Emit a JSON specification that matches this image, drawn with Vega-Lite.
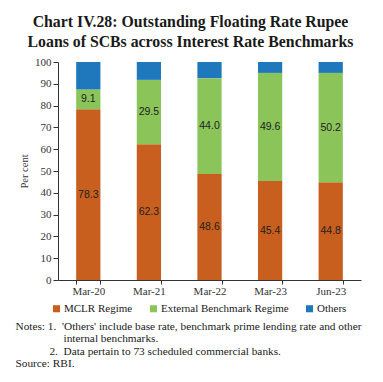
{
  "$schema": "https://vega.github.io/schema/vega-lite/v6.json",
  "width": 303,
  "height": 218,
  "autosize": {"type": "none"},
  "padding": {"left": 58, "top": 62, "right": 22, "bottom": 102},
  "background": "white",
  "config": {"view": {"stroke": null}, "axisY": {"labelOverlap": false}},
  "title": {
    "text": ["Chart IV.28: Outstanding Floating Rate Rupee", "Loans of SCBs across Interest Rate Benchmarks"],
    "font": "Liberation Serif",
    "fontSize": 15.8,
    "fontWeight": "bold",
    "color": "#1a1a1a",
    "anchor": "middle",
    "frame": "group",
    "dx": -19,
    "dy": 4,
    "offset": 9,
    "lineHeight": 20
  },
  "data": {
    "values": [
      {"date": "Mar-20", "series": "MCLR Regime", "value": 78.3},
      {"date": "Mar-20", "series": "External Benchmark Regime", "value": 9.1},
      {"date": "Mar-20", "series": "Others", "value": 12.6},
      {"date": "Mar-21", "series": "MCLR Regime", "value": 62.3},
      {"date": "Mar-21", "series": "External Benchmark Regime", "value": 29.5},
      {"date": "Mar-21", "series": "Others", "value": 8.2},
      {"date": "Mar-22", "series": "MCLR Regime", "value": 48.6},
      {"date": "Mar-22", "series": "External Benchmark Regime", "value": 44.0},
      {"date": "Mar-22", "series": "Others", "value": 7.4},
      {"date": "Mar-23", "series": "MCLR Regime", "value": 45.4},
      {"date": "Mar-23", "series": "External Benchmark Regime", "value": 49.6},
      {"date": "Mar-23", "series": "Others", "value": 5.0},
      {"date": "Jun-23", "series": "MCLR Regime", "value": 44.8},
      {"date": "Jun-23", "series": "External Benchmark Regime", "value": 50.2},
      {"date": "Jun-23", "series": "Others", "value": 5.0}
    ]
  },
  "transform": [
    {"window": [{"op": "row_number", "as": "k"}], "groupby": ["date"]}
  ],
  "layer": [
    {
      "mark": {"type": "bar"},
      "encoding": {
        "x": {
          "field": "date",
          "type": "nominal",
          "sort": ["Mar-20", "Mar-21", "Mar-22", "Mar-23", "Jun-23"],
          "scale": {"paddingInner": 0.6, "paddingOuter": 0.3},
          "axis": {
            "labelAngle": 0,
            "labelFont": "Liberation Serif",
            "labelFontSize": 11,
            "labelColor": "#333333",
            "labelPadding": 1,
            "tickBand": "extent",
            "tickSize": 4,
            "tickColor": "#333333",
            "domainColor": "#333333",
            "title": [
              "Notes: 1.\u00a0\u00a0'Others' include base rate, benchmark prime lending rate and other",
              "\u200b\u00a0\u00a0\u00a0\u00a0\u00a0\u00a0\u00a0\u00a0\u00a0\u00a0\u00a0\u00a0\u00a0\u00a0\u00a0\u00a0\u00a0internal benchmarks.",
              "\u200b\u00a0\u00a0\u00a0\u00a0\u00a0\u00a0\u00a0\u00a0\u00a0\u00a0\u00a0\u00a02.\u00a0\u00a0Data pertain to 73 scheduled commercial banks.",
              "Source: RBI."
            ],
            "titleFont": "Liberation Serif",
            "titleFontSize": 11.3,
            "titleFontWeight": "normal",
            "titleColor": "#1a1a1a",
            "titleAlign": "left",
            "titleAnchor": "start",
            "titleBaseline": "top",
            "titleLineHeight": 12.5,
            "titleX": -43,
            "titleY": 40
          }
        },
        "y": {
          "field": "value",
          "type": "quantitative",
          "stack": "zero",
          "scale": {"domain": [0, 100]},
          "axis": {
            "values": [0, 10, 20, 30, 40, 50, 60, 70, 80, 90, 100],
            "labelOverlap": false,
            "grid": false,
            "labelFont": "Liberation Serif",
            "labelFontSize": 11,
            "labelColor": "#333333",
            "labelPadding": 2,
            "tickSize": 5,
            "tickColor": "#333333",
            "domainColor": "#333333",
            "title": "Per cent",
            "titleFont": "Liberation Serif",
            "titleFontSize": 10.5,
            "titleFontWeight": "normal",
            "titleColor": "#333333",
            "titlePadding": 5
          }
        },
        "color": {
          "field": "series",
          "type": "nominal",
          "sort": ["MCLR Regime", "External Benchmark Regime", "Others"],
          "scale": {
            "domain": ["MCLR Regime", "External Benchmark Regime", "Others"],
            "range": ["#C85F1E", "#8BC55A", "#1F77BC"]
          },
          "legend": {
            "orient": "none",
            "legendX": -7,
            "legendY": 241,
            "direction": "horizontal",
            "title": null,
            "symbolType": "square",
            "symbolSize": 50,
            "symbolStrokeWidth": 0,
            "labelFont": "Liberation Serif",
            "labelFontSize": 11,
            "labelColor": "#1a1a1a",
            "labelOffset": 2,
            "columnPadding": 15
          }
        },
        "order": {"field": "k", "type": "quantitative", "sort": "ascending"}
      }
    },
    {
      "transform": [
        {"stack": "value", "groupby": ["date"], "sort": [{"field": "k", "order": "ascending"}], "as": ["v0", "v1"]},
        {"filter": {"field": "series", "oneOf": ["MCLR Regime", "External Benchmark Regime"]}},
        {"fold": ["v0", "v1"], "as": ["edge", "pos"]},
        {"aggregate": [{"op": "mean", "field": "pos", "as": "mid"}], "groupby": ["date", "series", "value"]}
      ],
      "mark": {"type": "text", "font": "Liberation Sans", "fontSize": 10.5, "color": "#222222"},
      "encoding": {
        "x": {"field": "date", "type": "nominal", "sort": ["Mar-20", "Mar-21", "Mar-22", "Mar-23", "Jun-23"]},
        "y": {
          "field": "mid",
          "type": "quantitative",
          "scale": {"domain": [0, 100]},
          "axis": {
            "values": [0, 10, 20, 30, 40, 50, 60, 70, 80, 90, 100],
            "labelOverlap": false,
            "grid": false,
            "title": "Per cent"
          }
        },
        "text": {"field": "value", "type": "quantitative", "format": ".1f"}
      }
    }
  ]
}
